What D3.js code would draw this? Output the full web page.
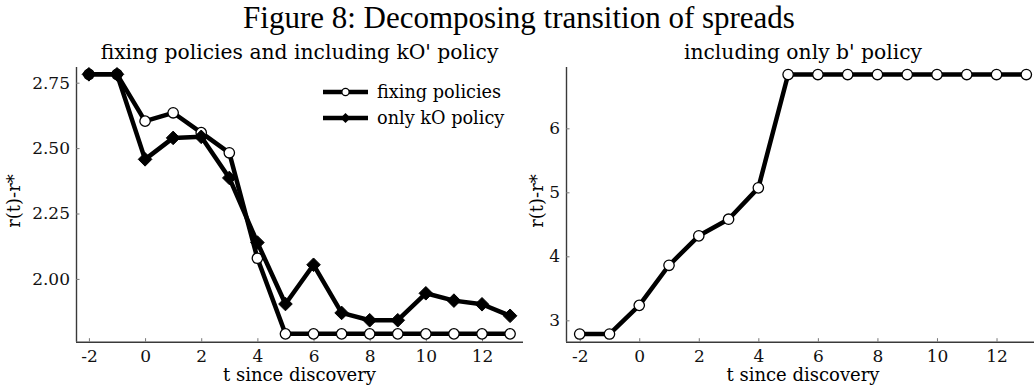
<!DOCTYPE html>
<html>
<head>
<meta charset="utf-8">
<script src="https://cdn.jsdelivr.net/npm/d3@7"></script>
<style>
  html, body { margin: 0; padding: 0; background: #fff; }
  svg { display: block; }
</style>
</head>
<body>
<div id="chart"></div>
<script>
// ---- data ----
const tValues = [-2, -1, 0, 1, 2, 3, 4, 5, 6, 7, 8, 9, 10, 11, 12, 13];
const fixingPolicies = [2.782, 2.782, 2.603, 2.635, 2.559, 2.482, 2.079, 1.79, 1.79, 1.79, 1.79, 1.79, 1.79, 1.79, 1.79, 1.79];
const onlyKOPolicy = [2.782, 2.782, 2.457, 2.539, 2.543, 2.386, 2.139, 1.904, 2.054, 1.870, 1.842, 1.842, 1.945, 1.917, 1.903, 1.859];
const onlyBPolicy = [2.786, 2.786, 3.234, 3.86, 4.32, 4.58, 5.07, 6.84, 6.84, 6.84, 6.84, 6.84, 6.84, 6.84, 6.84, 6.84];
const xTicks = [-2, 0, 2, 4, 6, 8, 10, 12];
const leftYTicks = [2.00, 2.25, 2.50, 2.75];
const rightYTicks = [3, 4, 5, 6];
const figTitle = "Figure 8: Decomposing transition of spreads";
const leftTitle = "fixing policies and including kO' policy";
const rightTitle = "including only b' policy";
const legendLabels = ["fixing policies", "only kO policy"];
const xLabel = "t since discovery";
const yLabel = "r(t)-r*";

const W = 1034, H = 391;
const svg = d3.select("#chart").append("svg").attr("width", W).attr("height", H);
const serif = "'DejaVu Serif', serif";

svg.append("text")
  .attr("x", 519).attr("y", 28)
  .attr("text-anchor", "middle")
  .style("font-family", "'Liberation Serif', 'Times New Roman', serif")
  .style("font-size", "31px")
  .text(figTitle);

const LW = 4.5;

function panel(opts) {
  const x = d3.scaleLinear().domain([-2.46, 13.46]).range([opts.x0, opts.x1]);
  const y = d3.scaleLinear().domain(opts.yDomain).range([341.7, 67]);
  const g = svg.append("g");

  // subplot title
  g.append("text")
    .attr("x", (opts.x0 + opts.x1) / 2).attr("y", 59)
    .attr("text-anchor", "middle")
    .style("font-family", serif).style("font-size", "20.3px")
    .text(opts.title);

  // axes
  const xAxis = d3.axisBottom(x).tickValues(xTicks).tickSize(-3.5).tickPadding(8)
    .tickFormat(d => d < 0 ? "-" + Math.abs(d) : String(d));
  const gx = g.append("g").attr("transform", `translate(0,${y.range()[0]})`).call(xAxis);
  const yAxis = d3.axisLeft(y).tickValues(opts.yTicks).tickSize(-3.5).tickPadding(6)
    .tickFormat(opts.yFormat);
  const gy = g.append("g").attr("transform", `translate(${opts.x0},0)`).call(yAxis);
  [gx, gy].forEach(a => {
    a.select(".domain").attr("stroke", "#3a3a3a").attr("stroke-width", 1.4);
    a.selectAll(".tick line").attr("stroke", "#777").attr("stroke-width", 1);
    a.selectAll(".tick text").style("font-family", serif).style("font-size", "17px").attr("fill", "#111");
  });
  gx.select(".domain").attr("d", `M${opts.x0},0.5H${opts.x1}`);
  gy.select(".domain").attr("d", `M0.5,${y.range()[0]}V${y.range()[1]}`);

  // labels
  g.append("text")
    .attr("x", (opts.x0 + opts.x1) / 2).attr("y", 381)
    .attr("text-anchor", "middle")
    .style("font-family", serif).style("font-size", "18px")
    .text(xLabel);
  g.append("text")
    .attr("transform", `translate(${opts.ylx},201) rotate(-90)`)
    .attr("text-anchor", "middle")
    .style("font-family", serif).style("font-size", "18px")
    .text(yLabel);

  return { x, y, g };
}

function drawSeries(p, values, marker) {
  const pts = tValues.map((t, i) => [p.x(t), p.y(values[i])]);
  p.g.append("path")
    .attr("d", d3.line()(pts))
    .attr("fill", "none").attr("stroke", "#000").attr("stroke-width", LW)
    .attr("stroke-linejoin", "round");
  const mg = p.g.append("g");
  pts.forEach(([px, py]) => {
    if (marker === "circle") {
      mg.append("circle").attr("cx", px).attr("cy", py).attr("r", 5.2)
        .attr("fill", "#fff").attr("stroke", "#000").attr("stroke-width", 1.3);
    } else {
      const s = 6.8;
      mg.append("path")
        .attr("d", `M${px},${py - s}L${px + s},${py}L${px},${py + s}L${px - s},${py}Z`)
        .attr("fill", "#000").attr("stroke", "#000").attr("stroke-width", 1);
    }
  });
}

const left = panel({
  x0: 76, x1: 523, yDomain: [1.76, 2.81], yTicks: leftYTicks,
  yFormat: d3.format(".2f"), title: leftTitle, ylx: 20
});
drawSeries(left, fixingPolicies, "circle");
drawSeries(left, onlyKOPolicy, "diamond");

const right = panel({
  x0: 566, x1: 1040, yDomain: [2.666, 6.958], yTicks: rightYTicks,
  yFormat: d3.format("d"), title: rightTitle, ylx: 543
});
drawSeries(right, onlyBPolicy, "circle");

// legend
const lg = svg.append("g");
legendLabels.forEach((lab, i) => {
  const yy = 92 + i * 26;
  lg.append("line").attr("x1", 323).attr("x2", 368).attr("y1", yy).attr("y2", yy)
    .attr("stroke", "#000").attr("stroke-width", LW);
  if (i === 0) {
    lg.append("circle").attr("cx", 345.5).attr("cy", yy).attr("r", 3.6)
      .attr("fill", "#fff").attr("stroke", "#000").attr("stroke-width", 1.2);
  } else {
    const s = 5;
    lg.append("path").attr("d", `M345.5,${yy - s}L${345.5 + s},${yy}L345.5,${yy + s}L${345.5 - s},${yy}Z`)
      .attr("fill", "#000");
  }
  lg.append("text").attr("x", 377).attr("y", yy).attr("dy", "0.35em")
    .style("font-family", serif).style("font-size", "17.7px")
    .text(lab);
});
</script>
</body>
</html>
